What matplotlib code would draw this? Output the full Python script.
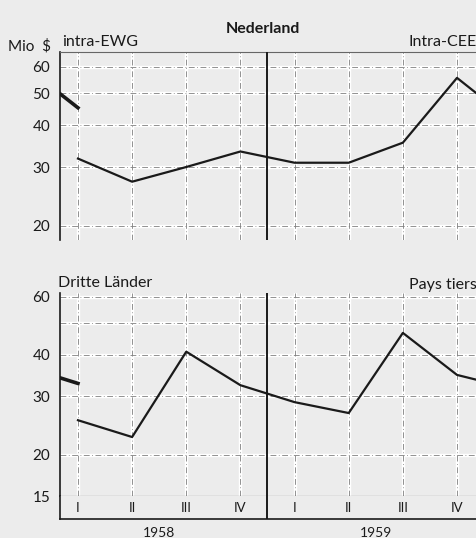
import matplotlib.pyplot as plt
import numpy as np

# quarter positions: 0..3 = I-IV 1958, 4..7 = I-IV 1959
quarters = np.arange(8)
quarter_labels = ['I', 'II', 'III', 'IV', 'I', 'II', 'III', 'IV']
years = ['1958', '1959']

# intra-EWG, Mio $
intra_old = [60.6, 45.2]          # IV 1957, I 1958 (old basis)
intra = [31.8, 27.1, 30.0, 33.4, 30.9, 30.9, 35.5, 55.6]
intra_next = 41.3                 # I 1960 (cut by the frame)

# Dritte Länder, Mio $
third_old = [36.9, 32.8]
third = [25.4, 22.6, 40.9, 32.4, 28.8, 26.7, 46.6, 34.8]
third_next = 31.7

top_ticks = [20, 30, 40, 50, 60]
bot_ticks = [20, 30, 40, 50, 60]
bot_ticklabels = ['20', '30', '40', '', '60']

W, H = 477, 538
BG = '#ececec'
INK = '#1a1a1a'

plt.rcParams['font.family'] = ['Lato', 'DejaVu Sans']


def px_rect(left, top, right, bottom):
    return [left / W, 1 - bottom / H, (right - left) / W, (bottom - top) / H]


def grid(ax, yvals):
    for y in yvals:
        ax.axhline(y, color='white', lw=2.4, zorder=1)
        ax.axhline(y, color='#808080', lw=0.6, ls=(0, (7, 3, 1, 3)), zorder=2)
    for x in quarters:
        ax.axvline(x, color='white', lw=2.4, zorder=1)
        ax.axvline(x, color='#808080', lw=0.6, ls=(0, (7, 3, 1, 3)), zorder=2)
    ax.axvline(3.5, color=INK, lw=1.4, zorder=3)


def style(ax, ticks, labels):
    ax.set_facecolor(BG)
    ax.set_yscale('log')
    ax.set_xlim(-0.332, 7.369)
    ax.set_xticks([])
    ax.set_yticks(ticks)
    ax.set_yticklabels(labels)
    ax.yaxis.set_minor_locator(plt.NullLocator())
    ax.tick_params(axis='y', length=0, pad=7, labelsize=11, colors=INK)
    for s in ['right', 'bottom', 'top']:
        ax.spines[s].set_visible(False)
    ax.spines['left'].set_color(INK)
    ax.spines['left'].set_linewidth(1.2)


fig = plt.figure(figsize=(W / 100, H / 100), dpi=100, facecolor=BG)

ax_top = fig.add_axes(px_rect(60, 52, 477, 240))
style(ax_top, top_ticks, [str(t) for t in top_ticks])
ax_top.set_ylim(18.1, 66.5)
ax_top.spines['top'].set_visible(True)
ax_top.spines['top'].set_color('#666666')
ax_top.spines['top'].set_linewidth(0.8)
grid(ax_top, top_ticks)
ax_top.plot([-1, 0], intra_old, color=INK, lw=2.6, zorder=4)
ax_top.plot(list(quarters) + [8], intra + [intra_next], color=INK, lw=1.6, zorder=4)

ax_bot = fig.add_axes(px_rect(60, 293, 477, 496))
style(ax_bot, bot_ticks + [15], bot_ticklabels + ['15'])
ax_bot.set_ylim(15, 61.5)
ax_bot.spines['bottom'].set_visible(True)
ax_bot.spines['bottom'].set_color(INK)
grid(ax_bot, bot_ticks)
ax_bot.plot([-1, 0], third_old, color=INK, lw=2.6, zorder=4)
ax_bot.plot(list(quarters) + [8], third + [third_next], color=INK, lw=1.6, zorder=4)

ax_box = fig.add_axes(px_rect(60, 496, 477, 519))
ax_box.set_facecolor(BG)
ax_box.set_xlim(-0.332, 7.369)
ax_box.set_ylim(0, 1)
ax_box.set_xticks([])
ax_box.set_yticks([])
for s in ['right', 'top']:
    ax_box.spines[s].set_visible(False)
for s in ['left', 'bottom']:
    ax_box.spines[s].set_color(INK)
    ax_box.spines[s].set_linewidth(1.2)
ax_box.axvline(3.5, color=INK, lw=1.4)
for x, lab in zip(quarters, quarter_labels):
    ax_box.text(x, 0.5, lab, ha='center', va='center', fontsize=9.5, color=INK)
for i, yr in enumerate(years):
    ax_box.text(1.5 + 4 * i, -0.6, yr, ha='center', va='center',
                fontsize=10, color=INK, clip_on=False)

fig.text(263 / W, 1 - 29 / H, 'Nederland', ha='center', va='center',
         fontsize=11.5, fontweight='bold', color=INK)
fig.text(8 / W, 1 - 46 / H, 'Mio  $', ha='left', va='center', fontsize=11, color=INK)
fig.text(62 / W, 1 - 42 / H, 'intra-EWG', ha='left', va='center', fontsize=11.5, color=INK)
fig.text(477 / W, 1 - 42 / H, 'Intra-CEE', ha='right', va='center', fontsize=11.5, color=INK)
fig.text(58 / W, 1 - 283 / H, 'Dritte Länder', ha='left', va='center', fontsize=11.5, color=INK)
fig.text(477 / W, 1 - 285 / H, 'Pays tiers', ha='right', va='center', fontsize=11.5, color=INK)

fig.savefig('out.png', dpi=100, facecolor=BG)
